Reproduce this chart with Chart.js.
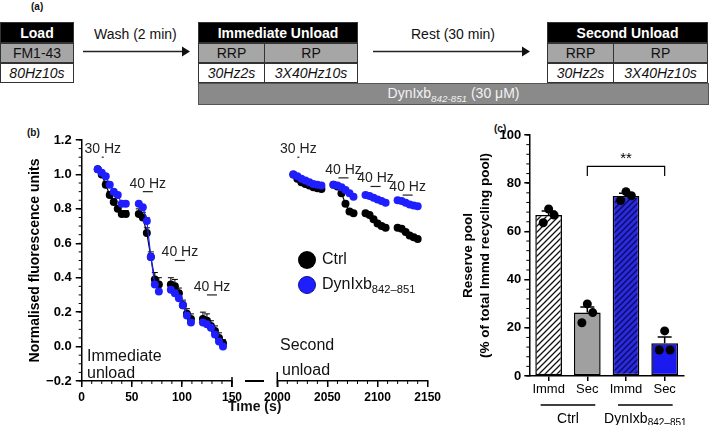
<!DOCTYPE html>
<html>
<head>
<meta charset="utf-8">
<script src="https://cdn.jsdelivr.net/npm/chart.js@4.4.0/dist/chart.umd.min.js"></script>
<style>
  body { margin: 0; width: 709px; height: 425px; overflow: hidden; background: #fff; position: relative;
         font-family: "Liberation Sans", Arial, sans-serif; color: #111; }
  .abs { position: absolute; }
  .cell { position: absolute; box-sizing: border-box; border: 1px solid #333; display: flex;
          align-items: center; justify-content: center; font-size: 14px; white-space: nowrap; }
  .hd { background: #000; color: #fff; font-weight: bold; }
  .gr { background: #a6a6a6; }
  .it { background: #fff; font-style: italic; }
  .lbl { font-size: 10px; font-weight: bold; }
  .dot { width: 18px; height: 18px; border-radius: 50%; }
  sub { font-size: 70%; }
  canvas { position: absolute; }
</style>
</head>
<body>

<!-- (a) protocol schematic -->
<div class="abs lbl" style="left:31px;top:1px">(a)</div>
<div class="cell hd" style="left:0;top:22px;width:74px;height:21px">Load</div>
<div class="cell gr" style="left:0;top:43px;width:74px;height:20px">FM1-43</div>
<div class="cell it" style="left:0;top:63px;width:74px;height:20px">80Hz10s</div>

<div class="abs" style="left:94px;top:26px;font-size:14px">Wash (2 min)</div>

<div class="cell hd" style="left:198px;top:22px;width:160px;height:21px">Immediate Unload</div>
<div class="cell gr" style="left:198px;top:43px;width:67px;height:20px">RRP</div>
<div class="cell gr" style="left:264px;top:43px;width:94px;height:20px">RP</div>
<div class="cell it" style="left:198px;top:63px;width:67px;height:20px">30Hz2s</div>
<div class="cell it" style="left:264px;top:63px;width:94px;height:20px">3X40Hz10s</div>

<div class="abs" style="left:411px;top:26px;font-size:14px">Rest (30 min)</div>

<div class="cell hd" style="left:547px;top:22px;width:161px;height:21px">Second Unload</div>
<div class="cell gr" style="left:547px;top:43px;width:67px;height:20px">RRP</div>
<div class="cell gr" style="left:613px;top:43px;width:95px;height:20px">RP</div>
<div class="cell it" style="left:547px;top:63px;width:67px;height:20px">30Hz2s</div>
<div class="cell it" style="left:613px;top:63px;width:95px;height:20px">3X40Hz10s</div>

<div class="cell" style="left:198px;top:83px;width:511px;height:22px;background:#8a8a8a;color:#f2f2f2;border-color:#555">
  <span>DynIxb<sub><i>842-851</i></sub> (30 μM)</span>
</div>

<svg class="abs" style="left:0;top:0" width="709" height="120">
  <line x1="83" y1="51.5" x2="183" y2="51.5" stroke="#222" stroke-width="1.5"/>
  <polygon points="190,51.5 182,46.5 182,56.5" fill="#111"/>
  <line x1="373" y1="51.5" x2="523" y2="51.5" stroke="#222" stroke-width="1.5"/>
  <polygon points="530,51.5 522,46.5 522,56.5" fill="#111"/>
</svg>

<!-- (b) time course -->
<div class="abs lbl" style="left:27px;top:127px">(b)</div>
<canvas id="immd" width="252" height="301" style="left:0;top:120px"></canvas>
<canvas id="sec" width="191" height="301" style="left:257px;top:120px"></canvas>
<div class="abs" style="left:245px;top:380px;width:19px;height:1.5px;background:#000"></div>
<div class="abs" style="left:87px;top:347px;font-size:16px;line-height:17px">Immediate<br>unload</div>
<div class="abs" style="left:280px;top:336px;font-size:16px">Second</div>
<div class="abs" style="left:282px;top:361px;font-size:16px">unload</div>
<div class="abs" style="left:228px;top:398px;font-size:14px;font-weight:bold">Time (s)</div>
<div class="abs dot" style="left:298px;top:251px;background:#000"></div>
<div class="abs" style="left:322px;top:250px;font-size:16px">Ctrl</div>
<div class="abs dot" style="left:298px;top:276px;background:#1e1eff;box-sizing:border-box;border:1px solid #10109a"></div>
<div class="abs" style="left:322px;top:275px;font-size:16px">DynIxb<sub>842–851</sub></div>

<!-- (c) reserve pool bars -->
<div class="abs lbl" style="left:494px;top:123px">(c)</div>
<canvas id="pool" width="253" height="310" style="left:456px;top:115px"></canvas>

<script>
// ---- data: immediate unload (time in s, normalised fluorescence) ----
const immdTimes = [[16, 20, 24, 28, 32, 36, 40, 44], [57, 61, 65, 69, 73, 77], [89, 93, 97, 101, 105, 109], [121, 125, 129, 133, 137, 141]];
const immdCtrl = [[1.03, 1.00, 0.94, 0.88, 0.84, 0.80, 0.77, 0.77], [0.77, 0.75, 0.66, 0.52, 0.39, 0.36], [0.36, 0.35, 0.31, 0.24, 0.19, 0.16], [0.16, 0.15, 0.12, 0.09, 0.05, 0.02]];
const immdCtrlSem = [[0.01, 0.01, 0.02, 0.02, 0.02, 0.02, 0.02, 0.02], [0.03, 0.03, 0.03, 0.03, 0.04, 0.04], [0.04, 0.04, 0.03, 0.03, 0.03, 0.03], [0.04, 0.04, 0.03, 0.03, 0.03, 0.02]];
const immdDyn = [[1.03, 1.01, 0.99, 0.94, 0.90, 0.88, 0.83, 0.83], [0.83, 0.81, 0.73, 0.52, 0.36, 0.32], [0.33, 0.31, 0.28, 0.24, 0.18, 0.14], [0.14, 0.13, 0.11, 0.07, 0.03, 0.00]];
const immdDynSem = [[0.01, 0.01, 0.01, 0.01, 0.01, 0.01, 0.01, 0.01], [0.01, 0.01, 0.02, 0.02, 0.02, 0.01], [0.01, 0.01, 0.02, 0.02, 0.02, 0.01], [0.02, 0.02, 0.02, 0.01, 0.01, 0.01]];

// ---- data: second unload ----
const secTimes = [[2016, 2020, 2024, 2028, 2032, 2036, 2040, 2044], [2056, 2060, 2064, 2068, 2072, 2076], [2088, 2092, 2096, 2100, 2104, 2108], [2120, 2124, 2128, 2132, 2136, 2140]];
const secCtrl = [[1.00, 0.975, 0.955, 0.945, 0.935, 0.925, 0.92, 0.915], [0.94, 0.93, 0.89, 0.83, 0.785, 0.775], [0.775, 0.765, 0.74, 0.715, 0.70, 0.69], [0.69, 0.685, 0.665, 0.645, 0.635, 0.625]];
const secDyn = [[1.00, 0.99, 0.975, 0.965, 0.955, 0.945, 0.94, 0.935], [0.94, 0.935, 0.925, 0.91, 0.89, 0.87], [0.88, 0.875, 0.865, 0.855, 0.845, 0.835], [0.85, 0.845, 0.835, 0.825, 0.82, 0.815]];

// stimulus bars: [start s, end s, level, label]
const immdStim = [[20, 22, 1.10, '30 Hz'], [61, 71, 0.90, '40 Hz'], [93, 103, 0.50, '40 Hz'], [125, 135, 0.30, '40 Hz']];
const secStim = [[2020, 2022, 1.10, '30 Hz'], [2061, 2071, 0.98, '40 Hz'], [2093, 2103, 0.93, '40 Hz'], [2125, 2135, 0.88, '40 Hz']];

const timeTicksImmd = [0, 50, 100, 150];
const timeTicksSec = [2000, 2050, 2100, 2150];

// ---- data: reserve pool (%) ----
const poolLabels = ['Immd', 'Sec', 'Immd', 'Sec'];
const poolMean = [66.8, 26.3, 74.7, 13.6];
const poolSem = [1.7, 2.3, 1.1, 2.6];
const poolDots = [[63.6, 69.3, 66.8], [22.1, 29.9, 26.3], [72.8, 76.5, 74.8], [10.8, 18.7, 10.8]];
const poolGroups = [['Ctrl', '', 0, 1], ['DynIxb', '842–851', 2, 3]];
const poolSig = [1, 3, 87, '**'];

// ---- styling ----
const FONT = '"Liberation Sans", Arial, sans-serif';
const BLUE = '#1e1eff';
const jitter = [-0.14, 0, 0.14];
Chart.defaults.font.family = FONT;
Chart.defaults.color = '#000';

function runPoints(times, vals) {
  const pts = [];
  times.forEach((run, r) => {
    if (r > 0) pts.push({x: (run[0] + times[r - 1][times[r - 1].length - 1]) / 2, y: null});
    run.forEach((t, i) => pts.push({x: t, y: vals[r][i]}));
  });
  return pts;
}

const minorTicks = {
  id: 'minorTicks',
  afterDraw(chart, args, opts) {
    const ctx = chart.ctx;
    ctx.save();
    ctx.strokeStyle = '#000';
    ctx.lineWidth = 1;
    (opts.axes || []).forEach(a => {
      const s = chart.scales[a.id];
      const n = Math.round((s.max - s.min) / a.step);
      for (let k = 0; k <= n; k++) {
        const p = s.getPixelForValue(s.min + k * a.step);
        ctx.beginPath();
        if (s.isHorizontal()) { ctx.moveTo(p, s.top); ctx.lineTo(p, s.top + 3); }
        else { ctx.moveTo(s.right, p); ctx.lineTo(s.right - 3, p); }
        ctx.stroke();
      }
    });
    ctx.restore();
  }
};

const errBars = {
  id: 'errBars',
  beforeDatasetsDraw(chart, args, opts) {
    const {ctx, scales: {x, y}} = chart;
    (opts.sets || []).forEach(s => {
      ctx.save();
      ctx.strokeStyle = s.color;
      ctx.lineWidth = 1;
      s.times.forEach((run, r) => run.forEach((t, i) => {
        const px = x.getPixelForValue(t);
        const p0 = y.getPixelForValue(s.vals[r][i]);
        const p1 = y.getPixelForValue(s.vals[r][i] + s.sem[r][i]);
        ctx.beginPath();
        ctx.moveTo(px, p0); ctx.lineTo(px, p1);
        ctx.moveTo(px - 3, p1); ctx.lineTo(px + 3, p1);
        ctx.stroke();
      }));
      ctx.restore();
    });
  }
};

const stimMarks = {
  id: 'stimMarks',
  afterDraw(chart, args, opts) {
    const {ctx, scales: {x, y}} = chart;
    ctx.save();
    ctx.fillStyle = '#222';
    ctx.font = '14px ' + FONT;
    ctx.textAlign = 'center';
    ctx.textBaseline = 'middle';
    (opts.stims || []).forEach(([a, b, v, label]) => {
      const x1 = x.getPixelForValue(a), x2 = x.getPixelForValue(b), py = y.getPixelForValue(v);
      ctx.fillRect(x1, py - 0.6, Math.max(x2 - x1, 1.5), 1.2);
      ctx.fillText(label, (x1 + x2) / 2, py - 8);
    });
    // axis break caps
    ctx.strokeStyle = '#000';
    ctx.lineWidth = 1.5;
    (opts.caps || []).forEach(([v, up]) => {
      const px = x.getPixelForValue(v);
      ctx.beginPath();
      ctx.moveTo(px, x.top - up); ctx.lineTo(px, x.top + 6);
      ctx.stroke();
    });
    ctx.restore();
  }
};

function timeChart(id, times, ctrl, dyn, ticks, stims, opts) {
  return new Chart(document.getElementById(id), {
    type: 'scatter',
    data: {
      datasets: [
        {label: 'DynIxb', data: runPoints(times, dyn), showLine: true, borderColor: BLUE, backgroundColor: BLUE,
         pointRadius: 4, pointBorderWidth: 0, borderWidth: 1.2},
        {label: 'Ctrl', data: runPoints(times, ctrl), showLine: true, borderColor: '#000', backgroundColor: '#000',
         pointRadius: 4, pointBorderWidth: 0, borderWidth: 1.2}
      ]
    },
    options: {
      responsive: false,
      animation: false,
      devicePixelRatio: 1,
      layout: {padding: opts.padding},
      plugins: {
        legend: {display: false},
        tooltip: {enabled: false},
        minorTicks: {axes: opts.showY ? [{id: 'x', step: 10}, {id: 'y', step: 0.05}] : [{id: 'x', step: 10}]},
        errBars: {sets: opts.err || []},
        stimMarks: {stims: stims, caps: opts.caps}
      },
      scales: {
        x: {
          type: 'linear', min: ticks[0], max: ticks[ticks.length - 1],
          afterBuildTicks: s => { s.ticks = ticks.map(v => ({value: v})); },
          afterFit: s => { s.height = 40; },
          grid: {drawOnChartArea: false, tickLength: 6, color: '#000', lineWidth: 1.5},
          border: {color: '#000', width: 1.5},
          ticks: {font: {size: 12, weight: 'bold'}, padding: 3, maxRotation: 0, callback: v => String(v)}
        },
        y: {
          display: opts.showY, min: -0.2, max: 1.2,
          afterFit: s => { if (opts.showY) s.width = 58.7; },
          grid: {drawOnChartArea: false, tickLength: 6, color: '#000', lineWidth: 1.5},
          border: {color: '#000', width: 1.5},
          ticks: {stepSize: 0.2, font: {size: 13, weight: 'bold'}, padding: 4,
                  callback: v => (v < -1e-9 ? '−' : '') + Math.abs(v).toFixed(1)},
          title: {display: true, text: 'Normalised fluorescence units', font: {size: 14, weight: 'bold'}, padding: {top: 4, bottom: 4}}
        }
      }
    },
    plugins: [minorTicks, errBars, stimMarks]
  });
}

timeChart('immd', immdTimes, immdCtrl, immdDyn, timeTicksImmd, immdStim, {
  showY: true,
  padding: {left: 23, right: 20, top: 20, bottom: 0},
  caps: [[150, 4]],
  err: [{times: immdTimes, vals: immdDyn, sem: immdDynSem, color: BLUE},
        {times: immdTimes, vals: immdCtrl, sem: immdCtrlSem, color: '#000'}]
});
timeChart('sec', secTimes, secCtrl, secDyn, timeTicksSec, secStim, {
  showY: false,
  padding: {left: 20.3, right: 20.3, top: 20, bottom: 0},
  caps: [[2000, 9]]
});

// ---- (c) bar chart ----
const poolCanvas = document.getElementById('pool');
function hatch(bg, fg) {
  const t = document.createElement('canvas');
  t.width = t.height = 6;
  const g = t.getContext('2d');
  g.fillStyle = bg; g.fillRect(0, 0, 6, 6);
  g.strokeStyle = fg; g.lineWidth = 1.3;
  g.beginPath();
  g.moveTo(0, 6); g.lineTo(6, 0);
  g.moveTo(-3, 3); g.lineTo(3, -3);
  g.moveTo(3, 9); g.lineTo(9, 3);
  g.stroke();
  return poolCanvas.getContext('2d').createPattern(t, 'repeat');
}

const poolExtras = {
  id: 'poolExtras',
  afterDatasetDraw(chart, args) {
    if (args.index !== 0) return;
    const {ctx, scales: {x, y}} = chart;
    ctx.save();
    ctx.strokeStyle = '#000';
    ctx.lineWidth = 1.5;
    poolMean.forEach((m, i) => {
      const px = x.getPixelForValue(i), p0 = y.getPixelForValue(m), p1 = y.getPixelForValue(m + poolSem[i]);
      ctx.beginPath();
      ctx.moveTo(px, p0); ctx.lineTo(px, p1);
      ctx.moveTo(px - 7, p1); ctx.lineTo(px + 7, p1);
      ctx.stroke();
    });
    ctx.restore();
  },
  afterDraw(chart) {
    const {ctx, chartArea, scales: {x, y}} = chart;
    ctx.save();
    ctx.strokeStyle = '#000';
    ctx.fillStyle = '#000';
    ctx.lineWidth = 1.2;
    // significance bracket
    const [a, b, lvl, txt] = poolSig;
    const xa = x.getPixelForValue(a), xb = x.getPixelForValue(b);
    const yt = y.getPixelForValue(lvl), yd = y.getPixelForValue(lvl - 4);
    ctx.beginPath();
    ctx.moveTo(xa, yd); ctx.lineTo(xa, yt); ctx.lineTo(xb, yt); ctx.lineTo(xb, yd);
    ctx.stroke();
    ctx.font = '15px ' + FONT;
    ctx.textAlign = 'center';
    ctx.textBaseline = 'middle';
    ctx.fillText(txt, (xa + xb) / 2, yt - 7);
    // group underlines and labels
    ctx.lineWidth = 1.5;
    poolGroups.forEach(([name, sub, i0, i1]) => {
      const x0 = x.getPixelForValue(i0) - 8, x1 = x.getPixelForValue(i1) + 8;
      const ly = chartArea.bottom + 29;
      ctx.beginPath(); ctx.moveTo(x0, ly); ctx.lineTo(x1, ly); ctx.stroke();
      ctx.font = '14px ' + FONT;
      const w1 = ctx.measureText(name).width;
      ctx.font = '10px ' + FONT;
      const w2 = sub ? ctx.measureText(sub).width : 0;
      const sx = (x0 + x1) / 2 - (w1 + w2) / 2;
      ctx.textAlign = 'left';
      ctx.font = '14px ' + FONT;
      ctx.fillText(name, sx, ly + 14);
      if (sub) { ctx.font = '10px ' + FONT; ctx.fillText(sub, sx + w1, ly + 18); }
    });
    ctx.restore();
  }
};

const dotPoints = [];
poolDots.forEach((vals, i) => vals.forEach((v, k) => dotPoints.push({x: i + jitter[k], y: v})));

new Chart(poolCanvas, {
  type: 'bar',
  data: {
    labels: poolLabels,
    datasets: [
      {data: poolMean, backgroundColor: [hatch('#fff', '#111'), '#a0a0a0', hatch('#2a2ae0', '#0a0a55'), '#1a1af0'],
       borderColor: '#000', borderWidth: 1.5, borderSkipped: false, grouped: false,
       barPercentage: 0.69, categoryPercentage: 1, order: 1},
      {type: 'scatter', xAxisID: 'xs', data: dotPoints, pointRadius: 4.5, pointBorderWidth: 0,
       backgroundColor: '#000', order: 0}
    ]
  },
  options: {
    responsive: false,
    animation: false,
    devicePixelRatio: 1,
    layout: {padding: {left: 0, right: 25, top: 20, bottom: 0}},
    plugins: {
      legend: {display: false},
      tooltip: {enabled: false},
      minorTicks: {axes: [{id: 'y', step: 4}]}
    },
    scales: {
      x: {
        afterFit: s => { s.height = 49; },
        grid: {drawOnChartArea: false, offset: false, tickLength: 5, color: '#000', lineWidth: 1.5},
        border: {color: '#000', width: 1.5},
        ticks: {font: {size: 13}, padding: 1}
      },
      xs: {type: 'linear', display: false, offset: false, min: -0.5, max: 3.5},
      y: {
        min: 0, max: 100,
        afterFit: s => { s.width = 73.3; },
        grid: {drawOnChartArea: false, tickLength: 5, color: '#000', lineWidth: 1.5},
        border: {color: '#000', width: 1.5},
        ticks: {stepSize: 20, font: {size: 13, weight: 'bold'}, padding: 3},
        title: {display: true, text: ['Reserve pool', '(% of total Immd recycling pool)'],
                font: {size: 13.5, weight: 'bold', lineHeight: 1.25}, padding: {top: 4, bottom: 4}}
      }
    }
  },
  plugins: [minorTicks, poolExtras]
});
</script>
</body>
</html>
